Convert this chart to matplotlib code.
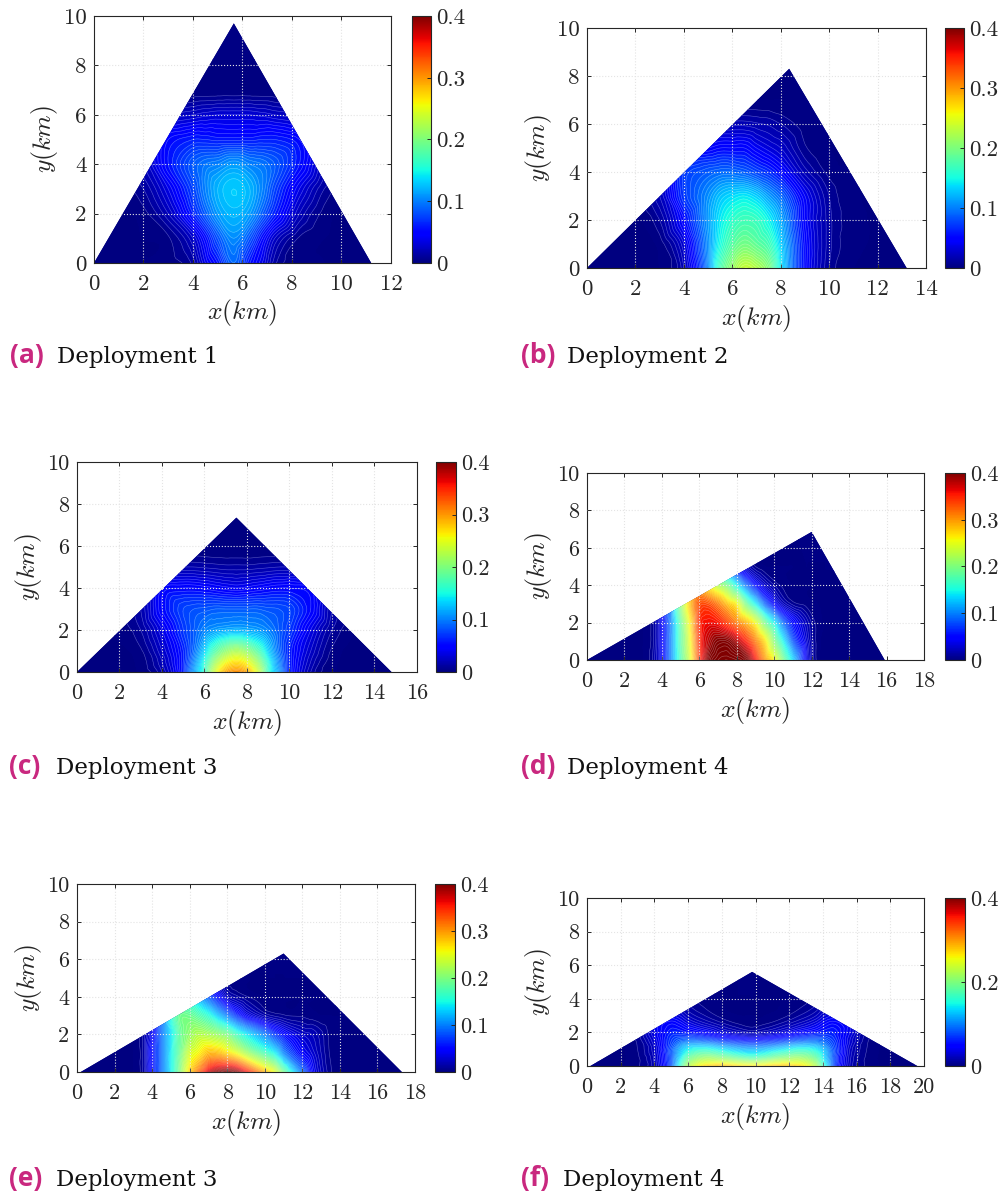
import numpy as np
import matplotlib
matplotlib.use("Agg")
from matplotlib import pyplot as plt
from matplotlib.patches import Polygon
import matplotlib.tri as mtri

W, H = 1003, 1194
plt.rcParams['mathtext.fontset'] = 'cm'
dark = '#262626'

# values (rows = y, columns = x)
x_a = [0, 2, 3, 4, 4.5, 5, 5.65, 6.3, 6.8, 7.3, 8.3, 9.3, 11.3]
y_a = [0, 1, 2, 3, 4, 5, 6, 7, 8, 10]
z_a = [
    [0, 0, .002, .012, .035, .055, .09, .055, .035, .012, .002, 0, 0],
    [0, 0, .004, .025, .05, .08, .105, .08, .05, .025, .004, 0, 0],
    [0, .003, .02, .06, .085, .11, .122, .11, .085, .06, .02, .003, 0],
    [0, .01, .035, .075, .10, .12, .13, .12, .10, .075, .035, .01, 0],
    [0, .02, .055, .085, .095, .10, .11, .10, .095, .085, .055, .02, 0],
    [0, .025, .05, .06, .06, .058, .058, .058, .06, .06, .05, .025, 0],
    [0, .01, .02, .025, .028, .03, .03, .03, .028, .025, .02, .01, 0],
    [0] * 13,
    [0] * 13,
    [0] * 13,
]
tri_a = [(0, 0), (5.65, 9.7), (11.2, 0)]

x_b = [0, 3, 4, 5, 5.5, 6, 6.5, 7, 7.5, 8, 9, 10, 11, 14]
y_b = [0, 1, 2, 3, 4, 5, 6, 7, 8, 10]
z_b = [
    [0, 0, .02, .1, .17, .21, .235, .225, .2, .14, .05, .01, 0, 0],
    [0, .002, .03, .105, .15, .18, .195, .185, .17, .13, .05, .012, .002, 0],
    [0, .01, .05, .11, .14, .16, .17, .165, .145, .115, .045, .012, .002, 0],
    [0, .02, .07, .105, .125, .135, .14, .13, .11, .09, .04, .01, .001, 0],
    [0, .03, .07, .085, .09, .09, .085, .075, .065, .05, .018, .003, 0, 0],
    [0, .02, .04, .045, .05, .05, .05, .04, .032, .025, .006, 0, 0, 0],
    [0, .01, .015, .015, .018, .018, .018, .016, .014, .01, .002, 0, 0, 0],
    [0] * 14,
    [0] * 14,
    [0] * 14,
]
tri_b = [(0, 0), (8.35, 8.3), (13.2, 0)]

x_c = [0, 3, 4, 5, 5.5, 6, 6.5, 7, 7.5, 8, 8.5, 9, 9.5, 10, 11, 12, 16]
y_c = [0, .5, 1, 2, 3, 4, 5, 6, 8, 10]
z_c = [
    [0, .001, .015, .06, .11, .16, .24, .29, .305, .29, .24, .16, .11, .06, .015, .001, 0],
    [0, .002, .02, .06, .10, .15, .21, .25, .265, .25, .21, .15, .10, .06, .02, .002, 0],
    [0, .004, .025, .06, .09, .13, .175, .205, .22, .205, .175, .13, .09, .06, .025, .004, 0],
    [0, .01, .035, .07, .085, .10, .11, .115, .118, .115, .11, .10, .085, .07, .035, .01, 0],
    [0, .015, .05, .075, .08, .082, .085, .085, .085, .085, .085, .082, .08, .075, .05, .015, 0],
    [0, .015, .045, .05, .05, .048, .045, .042, .04, .042, .045, .048, .05, .05, .045, .015, 0],
    [0, .005, .015, .015, .015, .014, .013, .012, .012, .012, .013, .014, .015, .015, .015, .005, 0],
    [0] * 17,
    [0] * 17,
    [0] * 17,
]
tri_c = [(0, 0), (7.5, 7.35), (14.8, 0)]

x_d = [0, 3, 3.5, 4, 4.5, 5, 5.5, 6, 6.5, 7, 7.5, 8, 8.5, 9, 9.5, 10, 10.5, 11, 11.7, 12.3, 16, 18]
y_d = [0, 1, 2, 3, 4, 5, 7, 10]
z_d = [
    [0, 0, .01, .04, .1, .17, .24, .34, .40, .42, .425, .42, .405, .355, .30, .255, .19, .13, .04, .003, 0, 0],
    [0, 0, .008, .04, .1, .175, .25, .345, .38, .40, .40, .38, .35, .31, .265, .2, .14, .08, .03, .003, 0, 0],
    [0, 0, .008, .04, .1, .18, .26, .345, .36, .355, .335, .31, .285, .25, .19, .14, .085, .05, .02, .003, 0, 0],
    [0, 0, .01, .05, .1, .2, .28, .33, .33, .31, .28, .255, .19, .14, .085, .045, .02, .008, .003, 0, 0, 0],
    [0, 0, .01, .05, .12, .2, .26, .28, .25, .22, .19, .14, .09, .05, .025, .01, .003, 0, 0, 0, 0, 0],
    [0, 0, .01, .04, .1, .15, .18, .18, .15, .11, .07, .04, .02, .005, 0, 0, 0, 0, 0, 0, 0, 0],
    [0] * 22,
    [0] * 22,
]
tri_d = [(0, 0), (12, 6.85), (15.9, 0)]

x_e = [0, 3, 3.5, 4, 4.5, 5, 5.5, 6, 6.5, 7, 7.5, 8, 8.5, 9, 10, 10.5, 11, 12, 12.5, 13, 13.5, 14, 18]
y_e = [0, 1, 2, 3, 4, 5, 7, 10]
z_e = [
    [0, 0, .01, .05, .09, .14, .2, .27, .32, .37, .395, .405, .395, .36, .285, .25, .19, .09, .045, .02, .006, 0, 0],
    [0, 0, .01, .05, .09, .14, .19, .24, .26, .285, .285, .27, .25, .22, .17, .145, .1, .045, .03, .015, .004, 0, 0],
    [0, 0, .01, .04, .09, .135, .185, .21, .225, .22, .21, .195, .165, .14, .095, .07, .05, .025, .02, .012, .003, 0, 0],
    [0, 0, .01, .04, .09, .15, .19, .19, .175, .155, .125, .095, .065, .04, .015, .009, .006, .004, .002, 0, 0, 0, 0],
    [0, 0, .01, .04, .08, .12, .14, .13, .11, .08, .05, .022, .012, .006, 0, 0, 0, 0, 0, 0, 0, 0, 0],
    [0, 0, .005, .02, .04, .06, .07, .06, .04, .02, .005, 0, 0, 0, 0, 0, 0, 0, 0, 0, 0, 0, 0],
    [0] * 23,
    [0] * 23,
]
tri_e = [(0.2, 0), (11, 6.3), (17.3, 0)]

x_f = [0, 3, 4, 5, 5.5, 6, 7, 8, 9, 9.8, 10.6, 11.6, 12.6, 13.6, 14.1, 14.6, 15.6, 16.6, 20]
y_f = [0, .5, 1, 1.5, 2, 2.5, 3, 4, 6, 10]
z_f = [
    [0, .004, .02, .08, .15, .22, .27, .28, .27, .265, .27, .28, .27, .22, .15, .08, .02, .004, 0],
    [0, .004, .022, .08, .13, .18, .21, .2, .18, .17, .18, .2, .21, .18, .13, .08, .022, .004, 0],
    [0, .005, .025, .08, .115, .14, .15, .135, .12, .115, .12, .135, .15, .14, .115, .08, .025, .005, 0],
    [0, .006, .03, .07, .085, .09, .085, .07, .06, .055, .06, .07, .085, .09, .085, .07, .03, .006, 0],
    [0, .008, .035, .06, .06, .055, .045, .03, .02, .015, .02, .03, .045, .055, .06, .06, .035, .008, 0],
    [0, .008, .035, .05, .045, .035, .022, .012, .005, .002, .005, .012, .022, .035, .045, .05, .035, .008, 0],
    [0, .005, .025, .035, .03, .02, .01, .003, 0, 0, 0, .003, .01, .02, .03, .035, .025, .005, 0],
    [0, 0, .01, .012, .01, .006, .002, 0, 0, 0, 0, 0, .002, .006, .01, .012, .01, 0, 0],
    [0] * 19,
    [0] * 19,
]
tri_f = [(0.2, 0), (9.8, 5.6), (19.6, 0)]

letters = ['(a)', '(b)', '(c)', '(d)', '(e)', '(f)']
names = ['Deployment 1', 'Deployment 2', 'Deployment 3', 'Deployment 4', 'Deployment 3', 'Deployment 4']
xmax = [12, 14, 16, 18, 18, 20]
cticks = [[0, .1, .2, .3, .4]] * 5 + [[0, .2, .4]]

# left, right, top, bottom in pixels
boxes = [(94, 391, 16, 263), (587, 926, 28, 268), (77, 417, 462, 672),
         (587, 924, 473, 660), (77, 415, 884, 1072), (587, 924, 898, 1066)]
cbar_x = [(412, 431), (945, 964), (436, 456), (945, 965), (435, 455), (945, 965)]
cap_y = [363, 363, 774, 774, 1186, 1186]
cap_x = [(10, 57), (521, 567), (9, 56), (521, 567), (9, 56), (521, 563)]
xlab_off = [50, 51, 51, 51, 50, 51]
tick_fs = [16.5, 16.5, 16, 16, 16, 16]


def px_axes(fig, l, r, t, b):
    return fig.add_axes([l / W, 1 - b / H, (r - l) / W, (b - t) / H])


def clabel(v):
    return '0' if v == 0 else '%.1f' % v


fig = plt.figure(figsize=(W / 100, H / 100), dpi=100)
levels = np.arange(0, 0.4301, 0.005)
cmap = plt.get_cmap('jet')

data = [(x_a, y_a, z_a, tri_a), (x_b, y_b, z_b, tri_b), (x_c, y_c, z_c, tri_c),
        (x_d, y_d, z_d, tri_d), (x_e, y_e, z_e, tri_e), (x_f, y_f, z_f, tri_f)]

for i in range(6):
    xs, ys, zs, corners = data[i]
    l, r, t, b = boxes[i]
    ax = px_axes(fig, l, r, t, b)

    X, Y = np.meshgrid(xs, ys)
    tr = mtri.Triangulation(X.ravel(), Y.ravel())
    z1 = np.array(zs, dtype=float).ravel()
    smooth = mtri.CubicTriInterpolator(tr, z1, kind='geom')
    tr2, z2 = mtri.UniformTriRefiner(tr).refine_field(z1, triinterpolator=smooth, subdiv=3)

    outline = Polygon(corners, closed=True, facecolor=cmap(0), edgecolor='none', zorder=1)
    ax.add_patch(outline)
    cf = ax.tricontourf(tr2, z2, levels=levels, cmap=cmap, vmin=0, vmax=0.4, extend='both',
                        antialiased=False, zorder=2)
    cf.set_clip_path(outline)
    cl = ax.tricontour(tr2, z2, levels=levels[1:], colors='white', linewidths=0.4, alpha=0.35, zorder=3)
    cl.set_clip_path(outline)

    ax.set_xlim(0, xmax[i])
    ax.set_ylim(0, 10)
    ax.set_xticks(np.arange(0, xmax[i] + 1, 2))
    ax.set_yticks(np.arange(0, 11, 2))
    ax.grid(True, color='#e4e4e4', linestyle=':', linewidth=0.8, zorder=4)
    ax.set_axisbelow(False)
    # no dots on top of the frame
    for g in [ax.get_xgridlines()[0], ax.get_xgridlines()[-1], ax.get_ygridlines()[0], ax.get_ygridlines()[-1]]:
        g.set_visible(False)
    ax.tick_params(direction='in', top=True, right=True, length=3, width=0.7, color=dark,
                   labelcolor=dark, labelsize=tick_fs[i])
    ax.tick_params(axis='x', pad=8.5)
    ax.tick_params(axis='y', pad=5.5)
    for lab in ax.get_xticklabels() + ax.get_yticklabels():
        lab.set_fontfamily('cmr10')
    for s in ax.spines.values():
        s.set_color(dark)
        s.set_linewidth(0.8)
    ax.set_xlabel(r'$x(km)$', fontsize=18.5, color=dark, va='center')
    ax.xaxis.set_label_coords(0.5, -xlab_off[i] / (b - t))
    ax.set_ylabel(r'$y(km)$', fontsize=18.5, color=dark, va='center')
    ax.yaxis.set_label_coords(-49 / (r - l), 0.5)

    cax = px_axes(fig, cbar_x[i][0], cbar_x[i][1], t, b)
    sm = plt.cm.ScalarMappable(norm=plt.Normalize(0, 0.4), cmap=cmap)
    cb = fig.colorbar(sm, cax=cax)
    cb.set_ticks(cticks[i])
    cb.set_ticklabels([clabel(v) for v in cticks[i]])
    cb.outline.set_edgecolor(dark)
    cb.outline.set_linewidth(0.8)
    cax.tick_params(direction='in', length=3, width=0.7, color=dark, labelcolor=dark,
                    labelsize=tick_fs[i], pad=4)
    for lab in cax.get_yticklabels():
        lab.set_fontfamily('cmr10')

    fig.text(cap_x[i][0] / W, 1 - cap_y[i] / H, letters[i], color='#c9287f', fontsize=19,
             fontfamily='Open Sans', fontweight='bold', va='baseline', ha='left')
    fig.text(cap_x[i][1] / W, 1 - cap_y[i] / H, names[i], color='#111111', fontsize=16.5,
             fontfamily='DejaVu Serif', va='baseline', ha='left')

fig.savefig('out.png', dpi=100)
